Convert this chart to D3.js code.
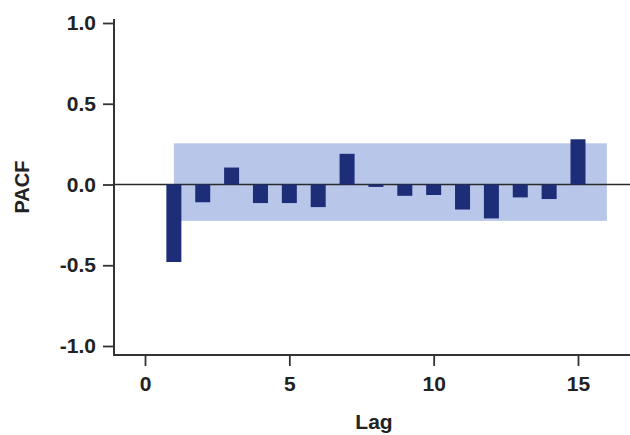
<!DOCTYPE html>
<html><head><meta charset="utf-8">
<script src="https://cdn.jsdelivr.net/npm/d3@7"></script>
<style>body{margin:0;background:#fff}svg{display:block}</style>
</head><body>
<svg id="c" width="630" height="435"></svg>
<script>
const lags = [1,2,3,4,5,6,7,8,9,10,11,12,13,14,15];
const pacf = [-0.48,-0.11,0.105,-0.115,-0.115,-0.14,0.19,-0.015,-0.07,-0.065,-0.155,-0.21,-0.08,-0.09,0.28];
const bandUpper = 0.255, bandLower = -0.225;
const bandLags = [1, 16];
const xTicks = [0,5,10,15];
const yTicks = [-1.0,-0.5,0.0,0.5,1.0];

const svg = d3.select("#c");
const x = d3.scaleLinear().domain([0,15]).range([145,578]);
const y = d3.scaleLinear().domain([-1,1]).range([346,23]);
const left = 114, bottom = 355, right = 630;

svg.append("rect")
  .attr("x", x(bandLags[0])).attr("width", x(bandLags[1]) - x(bandLags[0]))
  .attr("y", y(bandUpper)).attr("height", y(bandLower) - y(bandUpper))
  .attr("fill", "#b8c6ea");

svg.append("line").attr("x1", left).attr("x2", right)
  .attr("y1", y(0)).attr("y2", y(0)).attr("stroke", "#2a2a2a").attr("stroke-width", 1.6);

const bw = 15;
svg.selectAll("rect.bar").data(lags).enter().append("rect").attr("class","bar")
  .attr("x", (d) => x(d) - bw/2).attr("width", bw)
  .attr("y", (d,i) => y(Math.max(0, pacf[i])))
  .attr("height", (d,i) => Math.abs(y(pacf[i]) - y(0)))
  .attr("fill", "#1d2d78");

const font = "'Liberation Sans', Arial, sans-serif";
const fmt = (d) => d3.format(".1f")(d).replace("\u2212", "-");

const yAxis = d3.axisLeft(y).tickValues(yTicks).tickFormat(fmt).tickSize(11).tickPadding(7);
const gy = svg.append("g").attr("transform", `translate(${left},0)`).call(yAxis);
gy.select(".domain").remove();
gy.append("line").attr("x1",0).attr("x2",0).attr("y1",19).attr("y2",bottom).attr("stroke","#333").attr("stroke-width",2);
gy.selectAll(".tick line").attr("stroke","#333").attr("stroke-width",1.8);
gy.selectAll(".tick text").attr("font-family",font).attr("font-weight","bold").attr("font-size",21).attr("fill","#222");

const xAxis = d3.axisBottom(x).tickValues(xTicks).tickSize(11).tickPadding(10);
const gx = svg.append("g").attr("transform", `translate(0,${bottom})`).call(xAxis);
gx.select(".domain").remove();
gx.append("line").attr("x1",left-1).attr("x2",right).attr("y1",0).attr("y2",0).attr("stroke","#333").attr("stroke-width",2);
gx.selectAll(".tick line").attr("stroke","#333").attr("stroke-width",1.8);
gx.selectAll(".tick text").attr("font-family",font).attr("font-weight","bold").attr("font-size",21).attr("fill","#222");

svg.append("text").attr("x", 374).attr("y", 429).attr("text-anchor","middle")
  .attr("font-family",font).attr("font-weight","bold").attr("font-size",21).attr("fill","#222").text("Lag");
svg.append("text").attr("transform","translate(29,187) rotate(-90)").attr("text-anchor","middle")
  .attr("font-family",font).attr("font-weight","bold").attr("font-size",20).attr("fill","#222").text("PACF");
</script>
</body></html>
